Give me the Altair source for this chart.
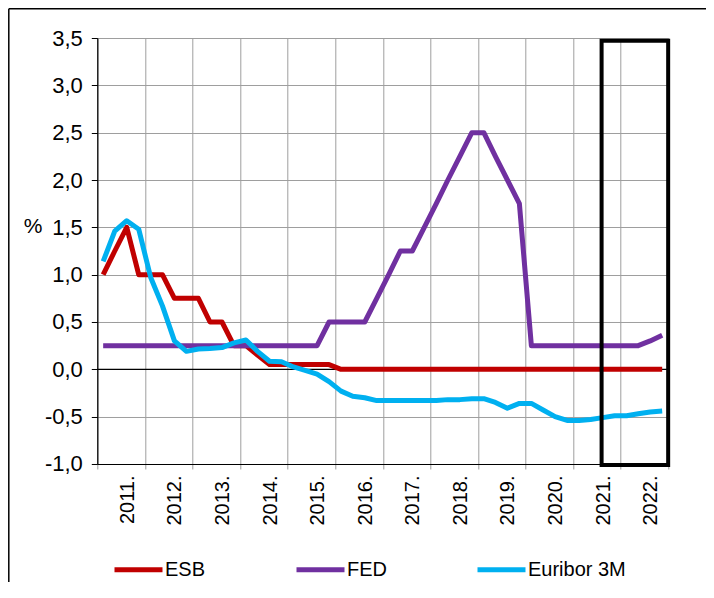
import altair as alt
import pandas as pd

# ---- data (quarterly, 2011Q1 .. 2022Q4) ----
years = list(range(2011, 2023))
quarter_mid = ["02-15", "05-15", "08-15", "11-15"]
series_names = ["ESB", "FED", "Euribor 3M"]
series_colors = ["#C00000", "#7030A0", "#00B0F0"]

esb = [1.0, 1.25, 1.5, 1.0,
       1.0, 1.0, 0.75, 0.75,
       0.75, 0.5, 0.5, 0.25,
       0.25, 0.15, 0.05, 0.05,
       0.05, 0.05, 0.05, 0.05,
       0.0, 0.0, 0.0, 0.0,
       0.0, 0.0, 0.0, 0.0,
       0.0, 0.0, 0.0, 0.0,
       0.0, 0.0, 0.0, 0.0,
       0.0, 0.0, 0.0, 0.0,
       0.0, 0.0, 0.0, 0.0,
       0.0, 0.0, 0.0, 0.0]

fed = [0.25, 0.25, 0.25, 0.25,
       0.25, 0.25, 0.25, 0.25,
       0.25, 0.25, 0.25, 0.25,
       0.25, 0.25, 0.25, 0.25,
       0.25, 0.25, 0.25, 0.5,
       0.5, 0.5, 0.5, 0.75,
       1.0, 1.25, 1.25, 1.5,
       1.75, 2.0, 2.25, 2.5,
       2.5, 2.25, 2.0, 1.75,
       0.25, 0.25, 0.25, 0.25,
       0.25, 0.25, 0.25, 0.25,
       0.25, 0.25, 0.30, 0.36]

euribor = [1.14, 1.46, 1.57, 1.48,
           0.97, 0.67, 0.30, 0.19,
           0.215, 0.22, 0.23, 0.28,
           0.31, 0.19, 0.085, 0.08,
           0.025, -0.01, -0.05, -0.13,
           -0.23, -0.285, -0.30, -0.33,
           -0.33, -0.33, -0.33, -0.33,
           -0.33, -0.32, -0.32, -0.31,
           -0.31, -0.35, -0.41, -0.36,
           -0.36, -0.43, -0.50, -0.54,
           -0.54, -0.53, -0.51, -0.49,
           -0.49, -0.47, -0.45, -0.44]

y_ticks = [-1.0, -0.5, 0.0, 0.5, 1.0, 1.5, 2.0, 2.5, 3.0, 3.5]
tick_years = list(range(2011, 2024))

# highlighted period box (2021-2022)
box_start = "2021-08-07"
box_end = "2022-12-31"
box_low = -1.01
box_high = 3.47

# ---- build tables ----
dates = [f"{y}-{q}" for y in years for q in quarter_mid]
rows = []
for name, vals in zip(series_names, [esb, fed, euribor]):
    for d, v in zip(dates, vals):
        rows.append({"date": d, "series": name, "value": v})
df = pd.DataFrame(rows)
box_df = pd.DataFrame([{"start": box_start, "end": box_end, "low": box_low, "high": box_high}])

FONT = "Liberation Sans"
GRID = "#9e9e9e"

x_scale = alt.Scale(domain=[alt.DateTime(year=2011, month=1, date=1),
                            alt.DateTime(year=2023, month=1, date=1)])
y_scale = alt.Scale(domain=[-1.0, 3.5], nice=False, zero=False)

lines = alt.Chart(df).mark_line(strokeWidth=5, strokeJoin="round").encode(
    x=alt.X("date:T", scale=x_scale,
            axis=alt.Axis(
                values=[alt.DateTime(year=y, month=1, date=1) for y in tick_years],
                labelExpr="year(datum.value) < 2023 ? timeFormat(datum.value, '%Y') + '.' : ''",
                labelAngle=270, labelAlign="right", labelBaseline="middle",
                labelOffset=30, labelPadding=6, tickSize=5, tickColor=GRID,
                labelFlush=False, labelOverlap=False,
                grid=True, gridColor=GRID, gridWidth=1,
                domainColor="black", domainWidth=1.2,
                labelFontSize=20, labelFont=FONT, labelColor="black",
                title=None)),
    y=alt.Y("value:Q", scale=y_scale,
            axis=alt.Axis(
                values=y_ticks,
                labelExpr="(datum.value < 0 ? '-' : '') + replace(format(abs(datum.value), '.1f'), '.', ',')",
                tickSize=6, tickColor="black", labelPadding=9,
                grid=True, gridColor=GRID, gridWidth=1,
                domainColor="black", domainWidth=1.2,
                labelFontSize=22, labelFont=FONT, labelColor="black",
                title="%", titleAngle=0, titleX=-64.8, titleY=188,
                titleAlign="center", titleBaseline="middle",
                titleFontSize=21, titleFont=FONT, titleFontWeight="normal",
                titleColor="black")),
    color=alt.Color("series:N",
                    scale=alt.Scale(domain=series_names, range=series_colors),
                    sort=series_names,
                    legend=alt.Legend(
                        title=None, orient="none", direction="horizontal",
                        legendX=14.7, legendY=505,
                        symbolType="stroke", symbolSize=2304, symbolStrokeWidth=5,
                        labelFontSize=20, labelFont=FONT, labelColor="black",
                        labelOffset=0, columnPadding=80, padding=0)),
    order=alt.Order("date:T"),
)

zero_rule = alt.Chart(box_df).mark_rule(color="black", strokeWidth=1.2).encode(
    y=alt.datum(0.0)
)

box = alt.Chart(box_df).mark_rect(fill=None, fillOpacity=0, stroke="black", strokeWidth=4).encode(
    x=alt.X("start:T"), x2="end:T",
    y=alt.Y("low:Q"), y2="high:Q",
)

frame_top = alt.Chart(box_df).mark_rule(color="black", strokeWidth=1.5).encode(
    x=alt.value(-88.5), x2=alt.value(620), y=alt.value(-29.3)
)
frame_left = alt.Chart(box_df).mark_rule(color="black", strokeWidth=1.5).encode(
    x=alt.value(-88.5), y=alt.value(-29.3), y2=alt.value(570)
)

chart = alt.layer(zero_rule, lines, box, frame_top, frame_left).properties(
    width=571, height=426,
    autosize=alt.AutoSizeParams(type="none"),
    padding={"left": 89.3, "top": 30, "right": 37.5, "bottom": 118},
).configure_view(stroke=None).configure(font=FONT)

chart.save("out.html", embed_options={"renderer": "svg", "actions": False})
